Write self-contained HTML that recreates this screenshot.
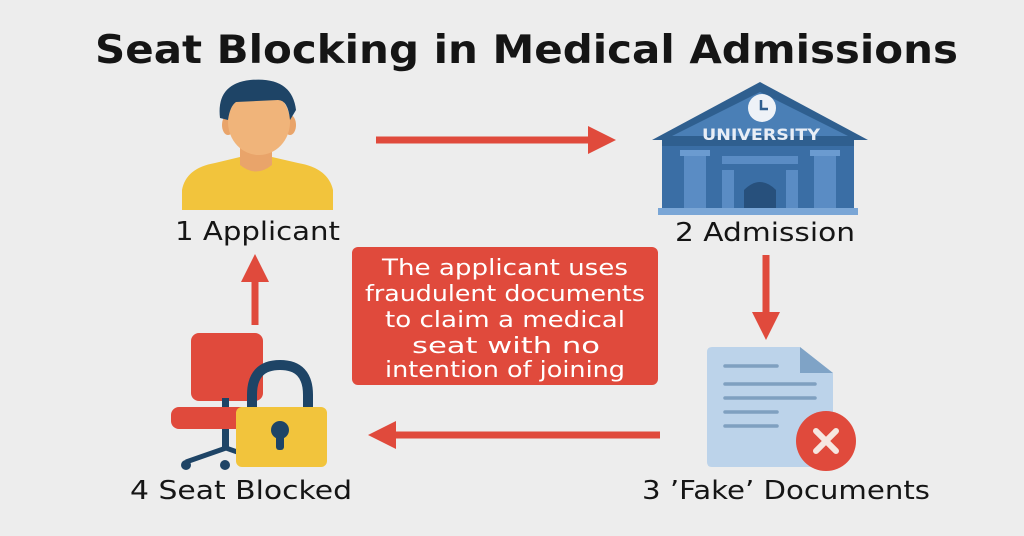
<!DOCTYPE html>
<html><head><meta charset="utf-8"><style>
html,body{margin:0;padding:0;background:#ededed;}
svg{display:block}
text{font-family:"DejaVu Sans","Liberation Sans",sans-serif;}
</style></head><body>
<svg width="1024" height="536" viewBox="0 0 1024 536" xmlns="http://www.w3.org/2000/svg">
<rect width="1024" height="536" fill="#ededed"/>
<text x="95" y="63" font-size="39" font-weight="bold" fill="#151515" textLength="863" lengthAdjust="spacingAndGlyphs">Seat Blocking in Medical Admissions</text>

<!-- person -->
<path d="M182 210 L182 190 Q186 168 215 163 L240 157 L272 157 L298 163 Q328 168 333 190 L333 210 Z" fill="#f2c43c"/>
<path d="M240 145 L240 165 Q256 178 272 165 L272 145 Z" fill="#e9a46a"/>
<ellipse cx="228" cy="125" rx="6" ry="10" fill="#e9a46a"/>
<ellipse cx="290" cy="125" rx="6" ry="10" fill="#e9a46a"/>
<ellipse cx="259" cy="122" rx="31" ry="33" fill="#f0b47a"/>
<path d="M220 118 Q216 84 250 80 Q292 76 296 110 L290 120 Q288 100 278 100 L236 102 Q230 106 228 120 Z" fill="#1e4466"/>

<text x="175" y="240" font-size="26" fill="#151515" textLength="165" lengthAdjust="spacingAndGlyphs">1 Applicant</text>

<!-- arrow right -->
<line x1="376" y1="140" x2="592" y2="140" stroke="#e04a3c" stroke-width="7"/>
<polygon points="588,126 616,140 588,154" fill="#e04a3c"/>

<!-- university -->
<polygon points="652,140 760,82 868,140" fill="#2f5f8f"/>
<polygon points="672,136 760,92 848,136" fill="#4a7fb6"/>
<rect x="662" y="138" width="192" height="72" fill="#3a6ea5"/>
<rect x="662" y="138" width="192" height="8" fill="#2f5f8f"/>
<rect x="680" y="150" width="30" height="6" fill="#6b9bd0"/>
<rect x="684" y="156" width="22" height="52" fill="#5a8cc4"/>
<rect x="810" y="150" width="30" height="6" fill="#6b9bd0"/>
<rect x="814" y="156" width="22" height="52" fill="#5a8cc4"/>
<rect x="722" y="156" width="76" height="8" fill="#5a8cc4"/>
<rect x="722" y="170" width="12" height="40" fill="#5a8cc4"/>
<rect x="786" y="170" width="12" height="40" fill="#5a8cc4"/>
<path d="M744 210 L744 190 Q760 174 776 190 L776 210 Z" fill="#27507c"/>
<rect x="658" y="208" width="200" height="7" fill="#7aa6d6"/>
<circle cx="762" cy="108" r="14" fill="#eef2f7"/>
<path d="M761 100 L761 109 L768 109" stroke="#2f5f8f" stroke-width="2.5" fill="none"/>
<text x="702" y="140" font-size="16" font-weight="bold" fill="#e8eef6" textLength="118" lengthAdjust="spacingAndGlyphs">UNIVERSITY</text>

<text x="675" y="241" font-size="26" fill="#151515" textLength="180" lengthAdjust="spacingAndGlyphs">2 Admission</text>

<!-- arrow down -->
<line x1="766" y1="255" x2="766" y2="316" stroke="#e04a3c" stroke-width="7"/>
<polygon points="752,312 766,340 780,312" fill="#e04a3c"/>

<!-- document -->
<path d="M712 347 L800 347 L833 373 L833 462 Q833 467 828 467 L712 467 Q707 467 707 462 L707 352 Q707 347 712 347 Z" fill="#bcd3ea"/>
<path d="M800 347 L800 373 L833 373 Z" fill="#7fa3c6"/>
<g stroke="#7fa0c0" stroke-width="3.5" stroke-linecap="round">
<line x1="725" y1="366" x2="777" y2="366"/>
<line x1="725" y1="384" x2="815" y2="384"/>
<line x1="725" y1="398" x2="815" y2="398"/>
<line x1="725" y1="412" x2="777" y2="412"/>
<line x1="725" y1="426" x2="777" y2="426"/>
</g>
<circle cx="826" cy="441" r="30" fill="#e04a3c"/>
<g stroke="#f6e6e0" stroke-width="6" stroke-linecap="round">
<line x1="816" y1="431" x2="836" y2="451"/><line x1="836" y1="431" x2="816" y2="451"/>
</g>

<text x="642" y="499" font-size="26" fill="#151515" textLength="288" lengthAdjust="spacingAndGlyphs">3 ’Fake’ Documents</text>

<!-- arrow left -->
<line x1="660" y1="435" x2="392" y2="435" stroke="#e04a3c" stroke-width="7"/>
<polygon points="396,421 368,435 396,449" fill="#e04a3c"/>

<!-- red box -->
<rect x="352" y="247" width="306" height="138" rx="6" fill="#e04a3c"/>
<g font-size="22" fill="#fff">
<text x="382" y="275" textLength="246" lengthAdjust="spacingAndGlyphs">The applicant uses</text>
<text x="365" y="301" textLength="280" lengthAdjust="spacingAndGlyphs">fraudulent documents</text>
<text x="385" y="327" textLength="240" lengthAdjust="spacingAndGlyphs">to claim a medical</text>
<text x="412" y="353" textLength="188" lengthAdjust="spacingAndGlyphs">seat with no</text>
<text x="385" y="377" textLength="240" lengthAdjust="spacingAndGlyphs">intention of joining</text>
</g>

<!-- arrow up -->
<line x1="255" y1="325" x2="255" y2="278" stroke="#e04a3c" stroke-width="7"/>
<polygon points="241,282 255,254 269,282" fill="#e04a3c"/>

<!-- chair -->
<rect x="191" y="333" width="72" height="68" rx="8" fill="#e04a3c"/>
<rect x="222" y="398" width="7" height="50" fill="#1e4466"/>
<rect x="171" y="407" width="90" height="22" rx="8" fill="#e04a3c"/>
<path d="M186 462 L226 448 L260 460" stroke="#1e4466" stroke-width="5" fill="none"/>
<circle cx="186" cy="465" r="5" fill="#1e4466"/>
<circle cx="225" cy="465" r="5" fill="#1e4466"/>
<!-- lock -->
<path d="M252 410 L252 395 Q252 365 280 365 Q308 365 308 395 L308 410" stroke="#1e4466" stroke-width="10" fill="none"/>
<rect x="236" y="407" width="91" height="60" rx="6" fill="#f2c43c"/>
<circle cx="280" cy="430" r="9" fill="#1e4466"/>
<rect x="276" y="432" width="8" height="18" rx="3" fill="#1e4466"/>

<text x="130" y="499" font-size="26" fill="#151515" textLength="222" lengthAdjust="spacingAndGlyphs">4 Seat Blocked</text>
</svg>
</body></html>
